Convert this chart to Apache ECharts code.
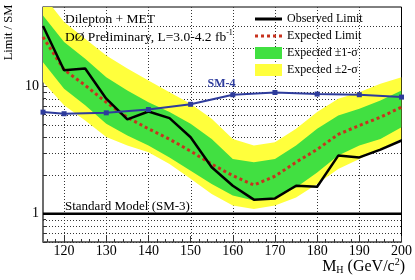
<!DOCTYPE html>
<html><head><meta charset="utf-8">
<script src="https://cdn.jsdelivr.net/npm/echarts@6/dist/echarts.min.js"></script>
<style>html,body{margin:0;padding:0;background:#fff}#c{width:415px;height:280px}</style>
</head><body><div id="c"></div>
<script>
// ---- data ----
const massPoints = [115,120,125,130,135,140,145,150,155,160,165,170,175,180,185,190,195,200];
const observedLimit = [29.8,13.4,13.8,8.0,5.5,6.35,5.63,3.99,2.32,1.66,1.29,1.32,1.66,1.63,2.86,2.77,3.19,3.76];
const expectedLimit = [24.4,13.5,10.2,7.5,5.7,4.65,3.85,3.1,2.45,1.99,1.68,1.97,2.54,3.2,4.2,4.93,5.73,6.87];
const sigma1Low  = [15.5,9.6,7.1,5.08,4.11,3.43,2.77,2.18,1.71,1.39,1.27,1.34,1.61,2.11,2.86,3.43,3.87,4.78];
const sigma1High = [36,22.3,16.5,11.8,9.3,7.5,6.28,5.08,3.87,2.69,2.54,2.69,3.43,4.64,5.91,6.67,7.76,9.3];
const sigma2Low  = [10.8,7.1,5.4,4.0,3.43,3.04,2.46,1.88,1.43,1.16,1.09,1.16,1.34,1.71,2.25,2.69,3.23,3.87];
const sigma2High = [52,32,23.7,17.5,13.8,11.1,9.0,7.3,5.57,3.87,3.43,3.64,4.64,6.28,8.0,9.0,10.5,11.8];
const sm4Mass  = [115,120,130,140,150,160,170,180,190,200];
const sm4Ratio = [6.28,6.1,6.2,6.58,7.23,8.6,8.95,8.7,8.6,8.24];
const sm3Mass  = [115,200];
const sm3Ratio = [1,1];
const xMajorTicks = [120,130,140,150,160,170,180,190,200];
const xGridValues = [120,130,140,150,160,170,180,190];
const xMinorTicks = [116,118,122,124,126,128,132,134,136,138,142,144,146,148,152,154,156,158,162,164,166,168,172,174,176,178,182,184,186,188,192,194,196,198];
const yLabelTicks = [1,10];
const yGridValues = [0.6,0.7,0.8,0.9,2,3,4,5,6,7,8,9,10,20,30];
const xMin = 115, xMax = 200, yMin = 0.6, yMax = 42;

const pairs = (xs, ys) => xs.map((x, i) => [x, ys[i]]);

const SERIF = 'Liberation Serif';
const YELLOW = '#ffff3c', GREEN = '#41e041', RED = '#c8321e', BLUE = '#2e3c9c', GRIDC = '#333';

function clipOf(params) {
  const cs = params.coordSys;
  return {type: 'rect', shape: {x: cs.x, y: cs.y, width: cs.width, height: cs.height}};
}

function bandSeries(name, lo, hi, color, z) {
  return {
    name, type: 'custom', coordinateSystem: 'cartesian2d', z, silent: true, clip: true,
    itemStyle: {color},
    encode: {x: 0, y: [1, 2]},
    data: massPoints.map((m, i) => [m, lo[i], hi[i]]),
    renderItem(params, api) {
      if (params.dataIndex !== 0) return null;
      const up = massPoints.map((m, i) => api.coord([m, hi[i]]));
      const dn = massPoints.map((m, i) => api.coord([m, lo[i]])).reverse();
      return {type: 'polygon', shape: {points: up.concat(dn)}, style: {fill: color}, clipPath: clipOf(params)};
    }
  };
}

const gridSeries = {
  name: 'grid', type: 'custom', coordinateSystem: 'cartesian2d', z: 1, silent: true,
  data: [[xMin, yMin]],
  renderItem(params, api) {
    const children = [];
    yGridValues.forEach(v => {
      const a = api.coord([xMin, v]), b = api.coord([xMax, v]);
      const y = Math.round(a[1]) + 0.5;
      children.push({type: 'line', shape: {x1: a[0], y1: y, x2: b[0], y2: y},
        style: {stroke: GRIDC, lineWidth: 1, lineDash: [1, 2]}});
    });
    xGridValues.forEach(v => {
      const a = api.coord([v, yMin]), b = api.coord([v, yMax]);
      const x = Math.round(a[0]) + 0.5;
      children.push({type: 'line', shape: {x1: x, y1: a[1], x2: x, y2: b[1]},
        style: {stroke: GRIDC, lineWidth: 1, lineDash: [1, 2]}});
    });
    return {type: 'group', children};
  }
};

const ICON_SOLID = 'path://M0,0L0,0M0,4.5L27,4.5L27,7.5L0,7.5ZM27,12L27,12';
const ICON_DOTTED = 'path://M0,0L0,0M0,4.5h3v3h-3zM6,4.5h3v3h-3zM12,4.5h3v3h-3zM18,4.5h3v3h-3zM24,4.5h3v3h-3zM27,12L27,12';

const chart = echarts.init(document.getElementById('c'), null, {renderer: 'canvas'});
chart.setOption({
  animation: false,
  backgroundColor: '#fff',
  grid: {left: 43, right: 10, top: 7, bottom: 38, show: true, borderColor: '#000', borderWidth: 1, backgroundColor: 'transparent'},
  legend: {
    left: 255, top: 12.5, orient: 'vertical', padding: 0,
    itemWidth: 27, itemHeight: 12, itemGap: 4,
    textStyle: {fontFamily: SERIF, fontSize: 12, color: '#000', lineHeight: 13},
    data: [
      {name: 'Observed Limit', icon: ICON_SOLID, itemStyle: {color: '#000'}},
      {name: 'Expected Limit', icon: ICON_DOTTED, itemStyle: {color: RED}},
      {name: 'Expected ±1-σ', icon: 'rect', itemStyle: {color: GREEN}},
      {name: 'Expected ±2-σ', icon: 'rect', itemStyle: {color: YELLOW}}
    ]
  },
  xAxis: [{
    type: 'value', min: xMin, max: xMax,
    axisLine: {show: true, lineStyle: {color: '#666', width: 1.5}},
    axisTick: {show: true, inside: true, length: 6, customValues: xMajorTicks, lineStyle: {color: '#333'}},
    axisLabel: {customValues: xMajorTicks, margin: 2, fontFamily: SERIF, fontSize: 14, color: '#000'},
    splitLine: {show: false}
  }, {
    type: 'value', min: xMin, max: xMax, position: 'bottom',
    axisLine: {show: false},
    axisTick: {show: true, inside: true, length: 3, customValues: xMinorTicks, lineStyle: {color: '#333'}},
    axisLabel: {show: false},
    splitLine: {show: false}
  }],
  yAxis: [{
    type: 'log', logBase: 10, min: yMin, max: yMax,
    axisLine: {show: true, lineStyle: {color: '#666', width: 1.5}},
    axisTick: {show: true, inside: true, length: 7, customValues: yLabelTicks, lineStyle: {color: '#333'}},
    axisLabel: {customValues: yLabelTicks, margin: 4, fontFamily: SERIF, fontSize: 14, color: '#000',
      formatter: v => String(Math.round(v))},
    splitLine: {show: false}
  }, {
    type: 'log', logBase: 10, min: yMin, max: yMax, position: 'left',
    axisLine: {show: false},
    axisTick: {show: true, inside: true, length: 3, customValues: yGridValues, lineStyle: {color: '#333'}},
    axisLabel: {show: false},
    splitLine: {show: false}
  }],
  graphic: [
    {type: 'text', x: 8.5, y: 32.5, rotation: Math.PI / 2,
      style: {text: 'Limit / SM', font: '12.5px "Liberation Serif"', fill: '#000', align: 'center', verticalAlign: 'middle'}},
    {type: 'text', x: 405, y: 266, z: 10,
      style: {text: '{m|M}{s|H}{m| (GeV/c}{p|2}{m|)}', align: 'right', verticalAlign: 'middle', fill: '#000',
        rich: {
          m: {fontFamily: SERIF, fontSize: 16, lineHeight: 18, verticalAlign: 'bottom'},
          s: {fontFamily: SERIF, fontSize: 10, lineHeight: 7, verticalAlign: 'bottom'},
          p: {fontFamily: SERIF, fontSize: 10, lineHeight: 9, verticalAlign: 'top'}
        }}},
    {type: 'text', x: 65, y: 19, z: 10,
      style: {text: 'Dilepton + MET', font: '13.5px "Liberation Serif"', fill: '#000', verticalAlign: 'middle'}},
    {type: 'text', x: 65, y: 36.5, z: 10,
      style: {text: '{m|DØ Preliminary, L=3.0-4.2 fb}{p|-1}', verticalAlign: 'middle', fill: '#000',
        rich: {
          m: {fontFamily: SERIF, fontSize: 13.5, lineHeight: 15, verticalAlign: 'bottom'},
          p: {fontFamily: SERIF, fontSize: 8, lineHeight: 8, verticalAlign: 'top'}
        }}},
    {type: 'text', x: 65, y: 207, z: 10,
      style: {text: 'Standard Model (SM-3)', font: '13px "Liberation Serif"', fill: '#000', verticalAlign: 'middle'}},
    {type: 'text', x: 221.5, y: 84, z: 10,
      style: {text: 'SM-4', font: 'bold 12px "Liberation Serif"', fill: BLUE, align: 'center', verticalAlign: 'middle'}}
  ],
  series: [
    gridSeries,
    bandSeries('Expected ±2-σ', sigma2Low, sigma2High, YELLOW, 2),
    bandSeries('Expected ±1-σ', sigma1Low, sigma1High, GREEN, 3),
    {name: 'SM-3', type: 'line', data: pairs(sm3Mass, sm3Ratio), symbol: 'none', silent: true,
      lineStyle: {color: '#000', width: 2.5}, z: 4},
    {name: 'Expected Limit', type: 'line', data: pairs(massPoints, expectedLimit), symbol: 'none',
      lineStyle: {color: RED, width: 3, type: 'dotted'}, itemStyle: {color: RED}, z: 5},
    {name: 'Observed Limit', type: 'line', data: pairs(massPoints, observedLimit), symbol: 'none',
      lineStyle: {color: '#000', width: 2.5}, itemStyle: {color: '#000'}, z: 6},
    {name: 'SM-4', type: 'line', data: pairs(sm4Mass, sm4Ratio), symbol: 'rect', symbolSize: 5,
      lineStyle: {color: BLUE, width: 2}, itemStyle: {color: BLUE}, z: 7}
  ]
});
</script></body></html>
